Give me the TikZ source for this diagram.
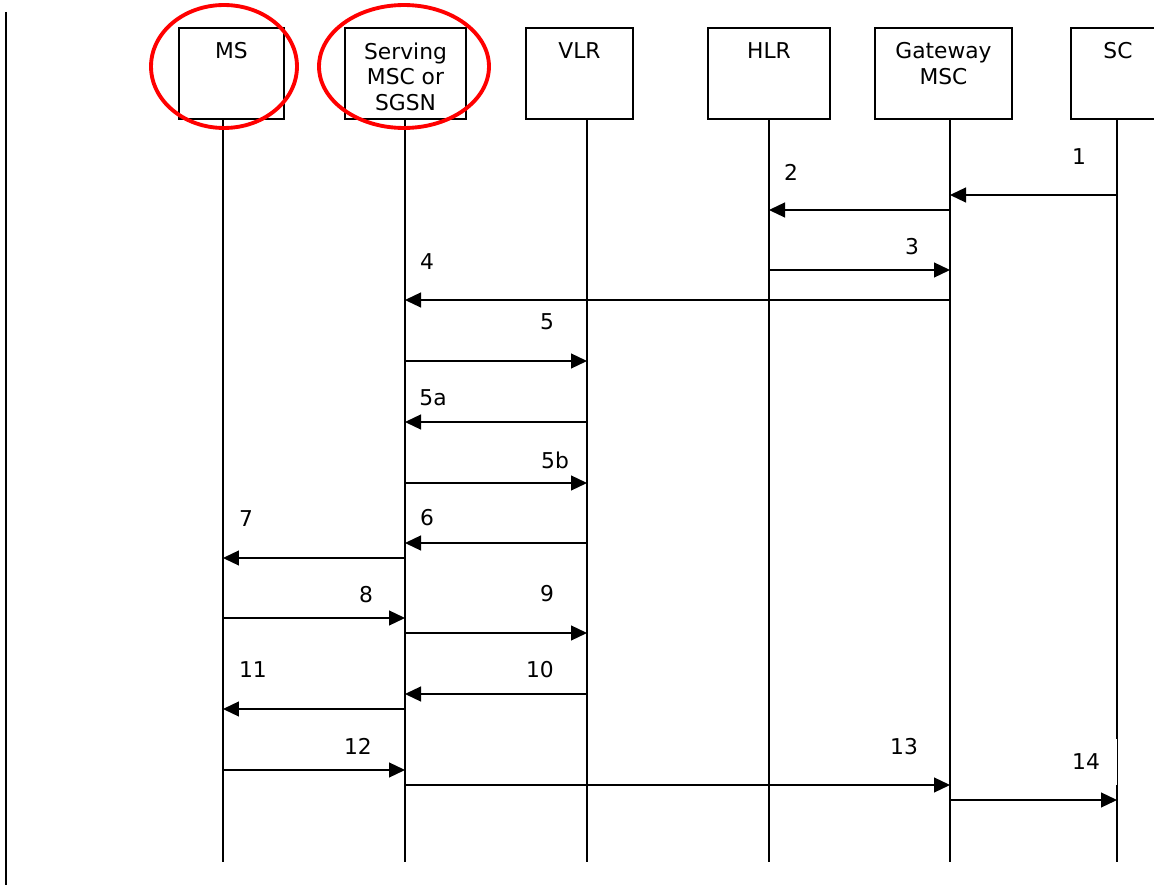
\documentclass[tikz,border=0pt]{standalone}
\usepackage{fontspec}
\setmainfont{DejaVu Sans}
\usepackage{tikz}
\usetikzlibrary{arrows.meta, shapes.geometric}

\begin{document}
\begin{tikzpicture}[x=0.02cm, y=-0.02cm,
  box/.style={rectangle, draw=black, line width=0.7pt, minimum height=1.82cm, inner sep=0pt},
  head/.style={anchor=north, align=center, inner sep=0pt, yshift=-0.3cm,
               font=\fontsize{12.4}{14.6}\selectfont},
  life/.style={line width=0.7pt},
  msg/.style={-{Triangle[length=0.32cm, width=0.3cm]}, line width=0.7pt},
  num/.style={font=\fontsize{12.4}{14.6}\selectfont, inner sep=0pt},
  ring/.style={ellipse, draw=red, line width=2.2pt, minimum width=2.92cm, minimum height=2.46cm}
]
  \useasboundingbox (0,0) rectangle (1154,885);

  % entities
  \node[box, minimum width=2.1cm,  label={[head]north:MS}] (ms) at (231.5,73.5) {};
  \node[box, minimum width=2.42cm, label={[head]north:{Serving\\MSC or\\SGSN}}] (msc) at (405.5,73.5) {};
  \node[box, minimum width=2.14cm, label={[head]north:VLR}] (vlr) at (579.5,73.5) {};
  \node[box, minimum width=2.44cm, label={[head]north:HLR}] (hlr) at (769,73.5) {};
  \node[box, minimum width=2.74cm, label={[head]north:{Gateway\\MSC}}] (gmsc) at (943.5,73.5) {};
  \node[box, minimum width=1.88cm, label={[head]north:SC}] (sc) at (1118,73.5) {};

  % lifelines
  \coordinate (ms-b)   at (223,862);
  \coordinate (msc-b)  at (405,862);
  \coordinate (vlr-b)  at (587,862);
  \coordinate (hlr-b)  at (769,862);
  \coordinate (gmsc-b) at (950,862);
  \coordinate (sc-b)   at (1117,862);
  \draw[life] (ms.south -| ms-b) -- (ms-b);
  \draw[life] (msc.south -| msc-b) -- (msc-b);
  \draw[life] (vlr.south -| vlr-b) -- (vlr-b);
  \draw[life] (hlr.south -| hlr-b) -- (hlr-b);
  \draw[life] (gmsc.south -| gmsc-b) -- (gmsc-b);
  \draw[life] (sc.south -| sc-b) -- (sc-b);

  % messages
  \draw[msg] (sc-b |- 0,195)   -- (gmsc-b |- 0,195);
  \draw[msg] (gmsc-b |- 0,210) -- (hlr-b |- 0,210);
  \draw[msg] (hlr-b |- 0,270)  -- (gmsc-b |- 0,270);
  \draw[msg] (gmsc-b |- 0,300) -- (msc-b |- 0,300);
  \draw[msg] (msc-b |- 0,361)  -- (vlr-b |- 0,361);
  \draw[msg] (vlr-b |- 0,422)  -- (msc-b |- 0,422);
  \draw[msg] (msc-b |- 0,483)  -- (vlr-b |- 0,483);
  \draw[msg] (vlr-b |- 0,543)  -- (msc-b |- 0,543);
  \draw[msg] (msc-b |- 0,558)  -- (ms-b |- 0,558);
  \draw[msg] (ms-b |- 0,618)   -- (msc-b |- 0,618);
  \draw[msg] (msc-b |- 0,633)  -- (vlr-b |- 0,633);
  \draw[msg] (vlr-b |- 0,694)  -- (msc-b |- 0,694);
  \draw[msg] (msc-b |- 0,709)  -- (ms-b |- 0,709);
  \draw[msg] (ms-b |- 0,770)   -- (msc-b |- 0,770);
  \draw[msg] (msc-b |- 0,785)  -- (gmsc-b |- 0,785);
  \draw[msg] (gmsc-b |- 0,800) -- (sc-b |- 0,800);

  % step numbers
  \node[num] (n1)  at (1079,157) {1};
  \node[num] (n2)  at (791,172)  {2};
  \node[num] (n3)  at (912,247)  {3};
  \node[num] (n4)  at (427,262)  {4};
  \node[num] (n5)  at (547,322)  {5};
  \node[num] (n5a) at (433,398)  {5a};
  \node[num] (n5b) at (555,460)  {5b};
  \node[num] (n6)  at (427,518)  {6};
  \node[num] (n7)  at (246,519)  {7};
  \node[num] (n8)  at (366,595)  {8};
  \node[num] (n9)  at (547,594)  {9};
  \node[num] (n10) at (540,670)  {10};
  \node[num] (n11) at (253,670)  {11};
  \node[num] (n12) at (358,746)  {12};
  \node[num] (n13) at (904,747)  {13};
  \node[num, fill=white, minimum width=1.24cm, minimum height=0.94cm] (n14) at (1086,762) {14};

  % highlighted entities
  \node[ring] (msring) at (224,66.5) {};
  \node[ring, minimum width=3.4cm] (mscring) at (404,66.5) {};

  \draw[line width=1.1pt] (6,12) -- (6,885);
\end{tikzpicture}
\end{document}
